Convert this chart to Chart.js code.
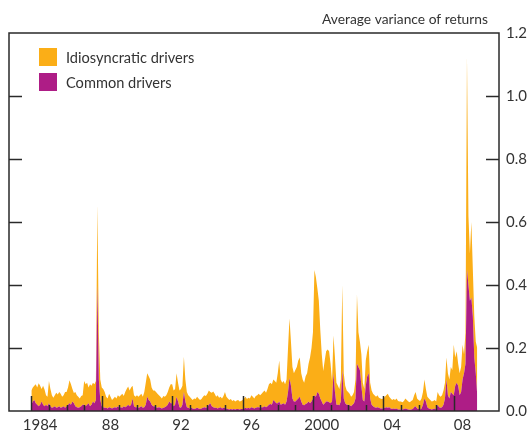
<!DOCTYPE html>
<html><head><meta charset="utf-8">
<script src="https://cdn.jsdelivr.net/npm/chart.js@4/dist/chart.umd.min.js"></script>
<style>html,body{margin:0;padding:0;background:#fff}#wrap{width:528px;height:432px}</style>
</head><body><div id="wrap"><canvas id="c" width="528" height="432"></canvas></div>
<script>
// Monthly data, January 1984 to May 2009
const startYear = 1984;
const common = [
 0.02,0.03,0.035,0.025,0.02,0.015,0.02,0.03,0.02,0.015,0.02,0.015,
 0.025,0.015,0.01,0.012,0.015,0.01,0.012,0.015,0.01,0.012,0.015,0.01,
 0.015,0.02,0.025,0.02,0.03,0.025,0.015,0.012,0.01,0.012,0.015,0.02,
 0.02,0.015,0.02,0.025,0.015,0.02,0.03,0.025,0.035,0.40,0.10,0.035,
 0.015,0.012,0.01,0.01,0.008,0.012,0.01,0.008,0.01,0.012,0.01,0.015,
 0.01,0.012,0.01,0.015,0.012,0.015,0.02,0.015,0.02,0.04,0.015,0.012,
 0.012,0.01,0.012,0.015,0.01,0.012,0.02,0.045,0.035,0.03,0.02,0.015,
 0.015,0.012,0.01,0.012,0.01,0.008,0.01,0.012,0.015,0.02,0.03,0.025,
 0.025,0.015,0.02,0.045,0.03,0.012,0.01,0.02,0.06,0.03,0.012,0.01,
 0.008,0.01,0.008,0.006,0.008,0.01,0.008,0.006,0.008,0.01,0.012,0.01,
 0.012,0.02,0.025,0.015,0.012,0.01,0.01,0.008,0.01,0.012,0.008,0.01,
 0.01,0.008,0.006,0.005,0.006,0.005,0.006,0.005,0.006,0.006,0.005,0.006,
 0.006,0.008,0.01,0.008,0.01,0.008,0.012,0.01,0.008,0.01,0.012,0.012,
 0.01,0.012,0.012,0.015,0.012,0.015,0.02,0.022,0.02,0.035,0.03,0.025,
 0.025,0.03,0.02,0.022,0.025,0.02,0.03,0.06,0.105,0.08,0.04,0.03,
 0.03,0.035,0.04,0.045,0.03,0.02,0.018,0.022,0.025,0.03,0.025,0.03,
 0.04,0.05,0.045,0.06,0.055,0.04,0.03,0.02,0.025,0.03,0.03,0.028,
 0.025,0.03,0.12,0.06,0.02,0.02,0.018,0.03,0.13,0.04,0.025,0.02,
 0.02,0.018,0.015,0.02,0.025,0.04,0.15,0.14,0.13,0.08,0.035,0.03,
 0.08,0.11,0.12,0.04,0.02,0.015,0.012,0.01,0.012,0.01,0.008,0.008,
 0.008,0.01,0.012,0.01,0.012,0.008,0.006,0.008,0.006,0.008,0.005,0.005,
 0.005,0.005,0.006,0.008,0.006,0.005,0.004,0.005,0.006,0.012,0.015,0.008,
 0.006,0.005,0.008,0.02,0.04,0.03,0.012,0.008,0.006,0.005,0.006,0.008,
 0.005,0.02,0.012,0.01,0.012,0.02,0.04,0.1,0.05,0.04,0.06,0.055,
 0.05,0.08,0.09,0.08,0.05,0.06,0.1,0.12,0.15,0.45,0.4,0.35,
 0.36,0.3,0.17,0.12,0.05
];
const idiosyncratic = [
 0.045,0.045,0.045,0.06,0.055,0.073,0.06,0.04,0.06,0.053,0.03,0.03,
 0.07,0.055,0.04,0.03,0.035,0.048,0.04,0.045,0.045,0.033,0.035,0.05,
 0.045,0.055,0.073,0.065,0.04,0.032,0.045,0.038,0.035,0.028,0.033,0.03,
 0.075,0.07,0.07,0.05,0.07,0.06,0.06,0.06,0.06,0.255,0.15,0.065,
 0.06,0.058,0.05,0.035,0.032,0.043,0.035,0.027,0.03,0.033,0.03,0.035,
 0.035,0.038,0.045,0.033,0.048,0.055,0.058,0.05,0.055,0.04,0.035,0.033,
 0.038,0.035,0.038,0.04,0.035,0.048,0.07,0.075,0.075,0.07,0.055,0.05,
 0.05,0.048,0.045,0.038,0.035,0.032,0.038,0.033,0.035,0.04,0.045,0.06,
 0.06,0.05,0.05,0.075,0.06,0.053,0.06,0.06,0.112,0.07,0.048,0.04,
 0.037,0.03,0.027,0.034,0.03,0.035,0.032,0.029,0.03,0.035,0.038,0.038,
 0.043,0.045,0.035,0.043,0.05,0.045,0.035,0.042,0.032,0.033,0.032,0.038,
 0.05,0.037,0.034,0.03,0.032,0.027,0.029,0.025,0.027,0.029,0.025,0.026,
 0.029,0.032,0.035,0.03,0.032,0.032,0.038,0.035,0.032,0.038,0.038,0.043,
 0.04,0.043,0.048,0.05,0.046,0.055,0.065,0.068,0.065,0.065,0.065,0.065,
 0.095,0.13,0.08,0.068,0.07,0.065,0.07,0.14,0.189,0.14,0.10,0.09,
 0.10,0.105,0.12,0.125,0.09,0.08,0.072,0.088,0.095,0.12,0.145,0.17,
 0.21,0.398,0.38,0.33,0.295,0.217,0.15,0.107,0.135,0.16,0.165,0.162,
 0.125,0.065,0.12,0.11,0.07,0.06,0.052,0.07,0.27,0.08,0.055,0.045,
 0.04,0.037,0.03,0.03,0.035,0.06,0.22,0.11,0.09,0.10,0.055,0.04,
 0.08,0.08,0.09,0.05,0.045,0.04,0.038,0.035,0.038,0.032,0.032,0.03,
 0.032,0.035,0.038,0.045,0.033,0.032,0.029,0.03,0.029,0.032,0.027,0.025,
 0.025,0.023,0.026,0.032,0.029,0.025,0.024,0.027,0.029,0.038,0.045,0.032,
 0.029,0.027,0.032,0.04,0.06,0.04,0.033,0.032,0.029,0.025,0.026,0.027,
 0.025,0.04,0.038,0.035,0.038,0.045,0.05,0.07,0.07,0.06,0.08,0.075,
 0.16,0.09,0.10,0.07,0.07,0.08,0.11,0.06,0.10,0.676,0.22,0.15,
 0.24,0.15,0.13,0.10,0.15
];
const tickYears = [1984, 1988, 1992, 1996, 2000, 2004, 2008];
const tickLabels = ['1984', '88', '92', '96', '2000', '04', '08'];
const yTickValues = [0, 0.2, 0.4, 0.6, 0.8, 1.0, 1.2];
const seriesNames = ['Idiosyncratic drivers', 'Common drivers'];
const yTitle = 'Average variance of returns';

const ORANGE = '#FBAE17';
const PURPLE = '#AE1D86';
const INK = '#2a2a2a';
const TEXT = '#333333';
const FONT = 'Lato';
const FSIZE = 15;

const toPoints = arr => arr.map((v, i) => ({ x: startYear + i / 12, y: v }));

const decor = {
  id: 'decor',
  afterDatasetsDraw(chart) {
    const { ctx, chartArea: a, scales } = chart;
    ctx.save();
    ctx.strokeStyle = INK;
    ctx.lineWidth = 1.5;
    for (let y = tickYears[0]; y <= tickYears[tickYears.length - 1]; y++) {
      const px = Math.round(scales.x.getPixelForValue(y)) + 0.5;
      const len = (y - tickYears[0]) % 4 === 0 ? 15 : 6;
      ctx.beginPath(); ctx.moveTo(px, a.bottom); ctx.lineTo(px, a.bottom - len); ctx.stroke();
    }
    yTickValues.slice(1, -1).forEach(v => {
      const py = Math.round(scales.y.getPixelForValue(v)) + 0.5;
      ctx.beginPath(); ctx.moveTo(a.left, py); ctx.lineTo(a.left + 13, py); ctx.stroke();
      ctx.beginPath(); ctx.moveTo(a.right, py); ctx.lineTo(a.right - 13, py); ctx.stroke();
    });
    ctx.strokeRect(a.left, a.top, a.right - a.left, a.bottom - a.top);
    ctx.restore();
  },
  afterDraw(chart) {
    const { ctx, chartArea: a } = chart;
    ctx.save();
    ctx.fillStyle = TEXT;
    ctx.textBaseline = 'middle';
    ctx.textAlign = 'right';
    ctx.font = `13.8px ${FONT}`;
    ctx.fillText(yTitle, a.right - 11, 20);
    ctx.font = `14.6px ${FONT}`;
    const ds = chart.data.datasets;
    const order = [1, 0];
    order.forEach((di, k) => {
      const yTop = a.top + 15 + k * 25;
      ctx.fillStyle = ds[di].backgroundColor;
      ctx.fillRect(a.left + 30, yTop, 18, 18);
      ctx.fillStyle = TEXT;
      ctx.textAlign = 'left';
      ctx.fillText(ds[di].label, a.left + 57, yTop + 10);
    });
    ctx.restore();
  }
};

new Chart(document.getElementById('c'), {
  type: 'line',
  data: {
    datasets: [
      { label: seriesNames[1], data: toPoints(common), backgroundColor: PURPLE,
        borderColor: 'rgba(0,0,0,0)', borderWidth: 0, pointRadius: 0, fill: 'origin', tension: 0 },
      { label: seriesNames[0], data: toPoints(idiosyncratic), backgroundColor: ORANGE,
        borderColor: 'rgba(0,0,0,0)', borderWidth: 0, pointRadius: 0, fill: '-1', tension: 0 }
    ]
  },
  options: {
    responsive: false, animation: false, devicePixelRatio: 1,
    layout: { padding: { left: 9, top: 33, right: 0, bottom: 0 } },
    plugins: { legend: { display: false }, tooltip: { enabled: false } },
    scales: {
      x: {
        type: 'linear', min: 1982.73, max: 2010.57,
        grid: { display: false, drawTicks: false }, border: { display: false },
        afterBuildTicks: s => { s.ticks = tickYears.map(y => ({ value: y + 0.5 })); },
        afterFit: s => { s.height = 21; },
        ticks: {
          autoSkip: false, maxRotation: 0, padding: 5, color: TEXT,
          font: { family: FONT, size: FSIZE },
          callback: v => { const k = tickYears.findIndex(y => Math.abs(y + 0.5 - v) < 1e-6); return k >= 0 ? tickLabels[k] : ''; }
        }
      },
      y: {
        position: 'right', stacked: true, min: 0, max: 1.2,
        grid: { display: false, drawTicks: false }, border: { display: false },
        afterBuildTicks: s => { s.ticks = yTickValues.map(v => ({ value: v })); },
        afterFit: s => { s.width = 29; },
        ticks: { padding: 7, color: TEXT, font: { family: FONT, size: FSIZE },
          callback: v => Number(v).toFixed(1) }
      }
    }
  },
  plugins: [decor]
});
</script></body></html>
